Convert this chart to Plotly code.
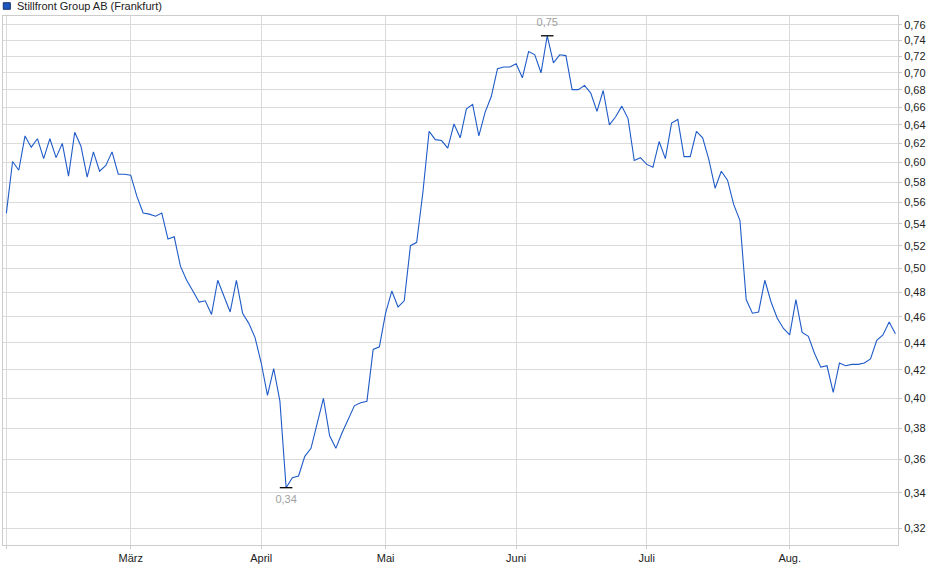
import pandas as pd
import plotly.graph_objects as go

TITLE = "Stillfront Group AB (Frankfurt)"

# Trading days (Frankfurt), Feb 3 – Aug 26, 2025
HOLIDAYS = ["2025-04-18", "2025-04-21", "2025-05-01"]
dates = [d.strftime("%Y-%m-%d") for d in pd.bdate_range("2025-02-03", "2025-08-26")
         if d.strftime("%Y-%m-%d") not in HOLIDAYS]

PRICES = [
    0.550, 0.601, 0.592, 0.628, 0.616, 0.625, 0.604, 0.625, 0.605, 0.620,
    0.586, 0.632, 0.617, 0.585, 0.611, 0.591, 0.597, 0.611, 0.588, 0.588,
    0.587, 0.566, 0.550, 0.549, 0.547, 0.550, 0.526, 0.528, 0.502, 0.490,
    0.481, 0.472, 0.473, 0.462, 0.490, 0.477, 0.464, 0.490, 0.463, 0.455,
    0.444, 0.425, 0.402, 0.421, 0.398, 0.343, 0.349, 0.350, 0.362, 0.367,
    0.383, 0.400, 0.375, 0.367, 0.377, 0.386, 0.395, 0.397, 0.398, 0.435,
    0.437, 0.463, 0.481, 0.468, 0.473, 0.520, 0.523, 0.570, 0.633, 0.624,
    0.623, 0.615, 0.641, 0.626, 0.658, 0.663, 0.628, 0.654, 0.672, 0.705,
    0.707, 0.707, 0.711, 0.694, 0.726, 0.722, 0.700, 0.746, 0.712, 0.722,
    0.721, 0.680, 0.680, 0.685, 0.676, 0.655, 0.679, 0.640, 0.649, 0.661,
    0.647, 0.602, 0.605, 0.598, 0.595, 0.622, 0.604, 0.642, 0.646, 0.606,
    0.606, 0.633, 0.626, 0.603, 0.574, 0.591, 0.582, 0.558, 0.543, 0.474,
    0.463, 0.464, 0.490, 0.472, 0.459, 0.451, 0.446, 0.474, 0.448, 0.445,
    0.432, 0.422, 0.423, 0.404, 0.425, 0.423, 0.424, 0.424, 0.425, 0.428,
    0.442, 0.446, 0.456, 0.447,
]

MONTH_LABELS = ["", "März", "April", "Mai", "Juni", "Juli", "Aug."]
Y_TICKS = [0.32, 0.34, 0.36, 0.38, 0.40, 0.42, 0.44, 0.46, 0.48, 0.50, 0.52,
           0.54, 0.56, 0.58, 0.60, 0.62, 0.64, 0.66, 0.68, 0.70, 0.72, 0.74, 0.76]

# first trading day of each month
month_ticks = []
seen = set()
for d in dates:
    m = d[:7]
    if m not in seen:
        seen.add(m)
        month_ticks.append(d)

FONT = "Liberation Sans, Arial, sans-serif"
LINE_BLUE = "#1f5bc8"
GRID = "#dadada"

i_max = max(range(len(PRICES)), key=lambda i: PRICES[i])
i_min = min(range(len(PRICES)), key=lambda i: PRICES[i])

def fmt(v):
    return f"{v:.2f}".replace(".", ",")

fig = go.Figure()
fig.add_trace(go.Scatter(
    x=dates, y=PRICES, mode="lines",
    line=dict(color=LINE_BLUE, width=1.1),
    hoverinfo="x+y", showlegend=False,
))
fig.add_trace(go.Scatter(
    x=[dates[i_max]], y=[PRICES[i_max]], mode="markers+text",
    marker=dict(symbol="line-ew", size=9, line=dict(color="#000000", width=1.3)),
    text=[fmt(PRICES[i_max])], textposition="top center",
    textfont=dict(color="#a0a0a0", size=11, family=FONT),
    showlegend=False, cliponaxis=False,
))
fig.add_trace(go.Scatter(
    x=[dates[i_min]], y=[PRICES[i_min]], mode="markers+text",
    marker=dict(symbol="line-ew", size=9, line=dict(color="#000000", width=1.3)),
    text=[fmt(PRICES[i_min])], textposition="bottom center",
    textfont=dict(color="#a0a0a0", size=11, family=FONT),
    showlegend=False, cliponaxis=False,
))

fig.update_layout(
    width=940, height=579,
    margin=dict(l=3, r=42, t=16, b=34, autoexpand=False),
    paper_bgcolor="white", plot_bgcolor="white",
    font=dict(family=FONT, size=11, color="#222222"),
    xaxis=dict(
        type="category", categoryorder="array", categoryarray=dates,
        range=[-0.54, 143.42],
        tickmode="array", tickvals=month_ticks, ticktext=MONTH_LABELS,
        showgrid=True, gridcolor=GRID, gridwidth=1,
        showline=True, linecolor="#cccccc", mirror=True,
        ticks="outside", ticklen=3, tickcolor="#cccccc",
        tickfont=dict(size=11, color="#222222"),
        zeroline=False,
    ),
    yaxis=dict(
        type="log", side="right",
        range=[-0.5075, -0.11249],
        tickmode="array", tickvals=Y_TICKS, ticktext=[fmt(v) for v in Y_TICKS],
        showgrid=True, gridcolor=GRID, gridwidth=1,
        showline=True, linecolor="#cccccc", mirror=True,
        ticks="outside", ticklen=3, tickcolor="#cccccc",
        tickfont=dict(size=11, color="#222222"),
        zeroline=False,
    ),
    shapes=[dict(
        type="rect", xref="paper", yref="paper",
        x0=0.0003, x1=0.0082, y0=1.0127, y1=1.0251,
        fillcolor="#1a55c0", line=dict(color="#1a2f6a", width=1),
    )],
    annotations=[dict(
        text=TITLE, xref="paper", yref="paper", x=0.0134, y=1.0189,
        xanchor="left", yanchor="middle", showarrow=False,
        font=dict(size=11, color="#222222", family=FONT),
    )],
)

fig.write_html(
    "out.html",
    config={"displayModeBar": False},
    post_script="document.body.style.margin='0';document.body.style.overflow='hidden';",
)
